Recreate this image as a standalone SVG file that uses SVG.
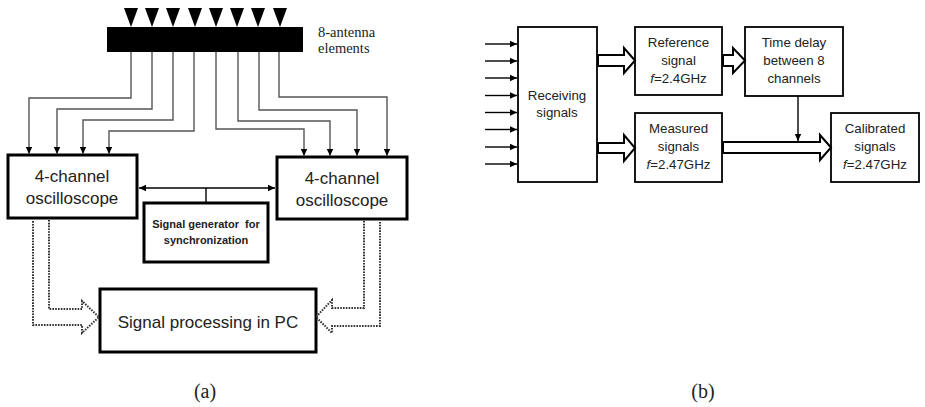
<svg xmlns="http://www.w3.org/2000/svg" width="925" height="407" viewBox="0 0 925 407">
<style>
.box{fill:#fff;stroke:#000;stroke-width:3}
.boxb{fill:#fff;stroke:#000;stroke-width:1.8}
.wire{fill:none;stroke:#555;stroke-width:1.4}
.t{font-family:"Liberation Sans",Arial,sans-serif;fill:#222;text-anchor:middle}
.big{font-size:17px}
.sm{font-size:13.3px}
.bold{font-size:11px;font-weight:bold}
.serif{font-family:"Liberation Serif","Times New Roman",serif;fill:#222}
.dot{fill:none;stroke:#333;stroke-width:2;stroke-dasharray:1.6 1.2}
.hollow{fill:#fff;stroke:#000;stroke-width:2;stroke-linejoin:miter}
.line{fill:none;stroke:#000;stroke-width:1.4}
</style>
<defs>
<marker id="ah" markerWidth="8" markerHeight="8" refX="7" refY="4" orient="auto" markerUnits="userSpaceOnUse">
<path d="M0,0.8 L7,4 L0,7.2 Z" fill="#000"/>
</marker>
<marker id="ahs" markerWidth="8" markerHeight="8" refX="7" refY="4" orient="auto-start-reverse" markerUnits="userSpaceOnUse">
<path d="M0,0.8 L7,4 L0,7.2 Z" fill="#000"/>
</marker>
</defs>

<!-- (a) -->
<g id="antenna">
<rect x="107" y="27" width="196" height="25" fill="#000"/>
<g fill="#000">
<polygon points="124,8 138,8 131,27"/>
<polygon points="145,8 159,8 152,27"/>
<polygon points="166,8 180,8 173,27"/>
<polygon points="188,8 202,8 195,27"/>
<polygon points="209,8 223,8 216,27"/>
<polygon points="230,8 244,8 237,27"/>
<polygon points="251,8 265,8 258,27"/>
<polygon points="273,8 287,8 280,27"/>
</g>
<text class="serif" x="318" y="37" font-size="14.5">8-antenna</text>
<text class="serif" x="318" y="53" font-size="14.5">elements</text>
</g>

<g id="osc-left">
<rect class="box" x="8" y="155" width="129" height="63"/>
<text class="t big" x="72" y="182">4-channel</text>
<text class="t big" x="72" y="204">oscilloscope</text>
</g>

<g id="osc-right">
<rect class="box" x="277" y="157" width="130" height="62"/>
<text class="t big" x="342" y="184">4-channel</text>
<text class="t big" x="342" y="206">oscilloscope</text>
</g>

<g id="siggen">
<rect class="box" x="144" y="203" width="124" height="59"/>
<text class="t bold" x="206" y="228">Signal generator&#160; for</text>
<text class="t bold" x="206" y="244">synchronization</text>
</g>

<g id="pc">
<rect class="box" x="100" y="289" width="216" height="63"/>
<text class="t big" x="208" y="328" font-size="16.5">Signal processing in PC</text>
</g>

<g id="connectors-a">
<polyline class="wire" points="131,52 131,98 29,98 29,154" marker-end="url(#ah)"/>
<polyline class="wire" points="152,52 152,109 57,109 57,154" marker-end="url(#ah)"/>
<polyline class="wire" points="173,52 173,120 83,120 83,154" marker-end="url(#ah)"/>
<polyline class="wire" points="194,52 194,131 109,131 109,154" marker-end="url(#ah)"/>
<polyline class="wire" points="216,52 216,129 304,129 304,156" marker-end="url(#ah)"/>
<polyline class="wire" points="238,52 238,121 330,121 330,156" marker-end="url(#ah)"/>
<polyline class="wire" points="259,52 259,110 357,110 357,156" marker-end="url(#ah)"/>
<polyline class="wire" points="279,52 279,97 387,97 387,156" marker-end="url(#ah)"/>
<line class="line" x1="139" y1="188" x2="275" y2="188" stroke-width="2" marker-start="url(#ahs)" marker-end="url(#ahs)"/>
<line class="line" x1="206" y1="188" x2="206" y2="203" stroke-width="2"/>
<polyline class="dot" points="49,220 49,309 82,309 82,301 99,317 82,333 82,325 33,325 33,220"/>
<polyline class="dot" points="364,221 364,308 332,308 332,300 316,317 332,333 332,326 380,326 380,221"/>
</g>

<!-- (b) -->
<g id="receiving">
<rect class="boxb" x="518" y="27" width="79" height="155"/>
<text class="t sm" x="557" y="100">Receiving</text>
<text class="t sm" x="557" y="117">signals</text>
</g>
<g id="reference">
<rect class="boxb" x="635" y="27" width="87" height="68"/>
<text class="t sm" x="678.5" y="47">Reference</text>
<text class="t sm" x="678.5" y="65">signal</text>
<text class="t sm" x="678.5" y="83"><tspan font-style="italic">f</tspan>=2.4GHz</text>
</g>
<g id="timedelay">
<rect class="boxb" x="745" y="27" width="98" height="69"/>
<text class="t sm" x="794" y="47">Time delay</text>
<text class="t sm" x="794" y="65">between 8</text>
<text class="t sm" x="794" y="83">channels</text>
</g>
<g id="measured">
<rect class="boxb" x="635" y="113" width="87" height="69"/>
<text class="t sm" x="678.5" y="133">Measured</text>
<text class="t sm" x="678.5" y="151">signals</text>
<text class="t sm" x="678.5" y="169"><tspan font-style="italic">f</tspan>=2.47GHz</text>
</g>
<g id="calibrated">
<rect class="boxb" x="831" y="113" width="88" height="69"/>
<text class="t sm" x="875" y="133">Calibrated</text>
<text class="t sm" x="875" y="151">signals</text>
<text class="t sm" x="875" y="169"><tspan font-style="italic">f</tspan>=2.47GHz</text>
</g>

<g id="connectors-b">
<line class="line" x1="485" y1="44" x2="517" y2="44" marker-end="url(#ah)"/>
<line class="line" x1="485" y1="61" x2="517" y2="61" marker-end="url(#ah)"/>
<line class="line" x1="485" y1="78" x2="517" y2="78" marker-end="url(#ah)"/>
<line class="line" x1="485" y1="95.5" x2="517" y2="95.5" marker-end="url(#ah)"/>
<line class="line" x1="485" y1="112.5" x2="517" y2="112.5" marker-end="url(#ah)"/>
<line class="line" x1="485" y1="129.5" x2="517" y2="129.5" marker-end="url(#ah)"/>
<line class="line" x1="485" y1="147" x2="517" y2="147" marker-end="url(#ah)"/>
<line class="line" x1="485" y1="164" x2="517" y2="164" marker-end="url(#ah)"/>
<polygon class="hollow" points="598,55 624,55 624,48 635,60.5 624,73 624,66 598,66"/>
<polygon class="hollow" points="723,55 733,55 733,48 745,60.5 733,73 733,66 723,66"/>
<polygon class="hollow" points="598,143 624,143 624,135 635,148 624,161 624,153 598,153"/>
<polygon class="hollow" points="723,142 820,142 820,135 831,147.5 820,160 820,153 723,153"/>
<line class="line" x1="798" y1="96" x2="798" y2="141" marker-end="url(#ah)"/>
</g>

<text class="serif" x="205" y="398" font-size="20" text-anchor="middle">(a)</text>
<text class="serif" x="703" y="398" font-size="20" text-anchor="middle">(b)</text>
</svg>
